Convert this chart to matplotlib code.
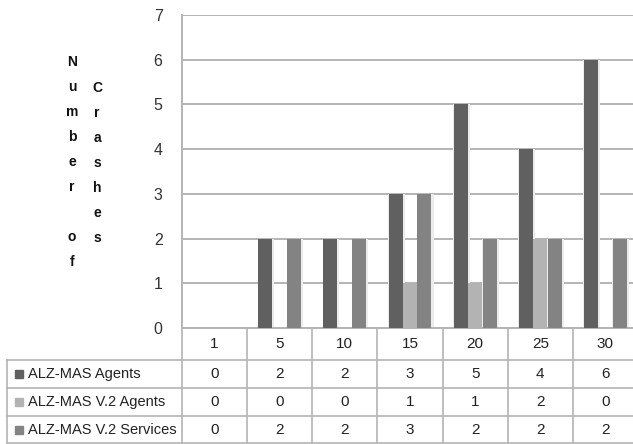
import matplotlib.pyplot as plt
import matplotlib.transforms as mtransforms
from matplotlib.lines import Line2D
from matplotlib.patches import Rectangle
import numpy as np

# number of agents launched per test run
agent_counts = ['1', '5', '10', '15', '20', '25', '30']
series_names = ['ALZ-MAS Agents', 'ALZ-MAS V.2 Agents', 'ALZ-MAS V.2 Services']
alz_mas_agents = [0, 2, 2, 3, 5, 4, 6]
alz_mas_v2_agents = [0, 0, 0, 1, 1, 2, 0]
alz_mas_v2_services = [0, 2, 2, 3, 2, 2, 2]
series_colors = ['#606060', '#b3b3b3', '#838383']

plt.rcParams['font.family'] = ['Liberation Sans', 'DejaVu Sans']

W, H = 633, 444
fig = plt.figure(figsize=(W / 100, H / 100), dpi=100)

# helpers to place things in pixel units (origin top-left)
def fx(px):
    return px / W

def fy(py):
    return 1 - py / H

grid_color = '#b4b4b4'
ax = fig.add_axes([fx(182), fy(328), fx(638) - fx(182), fy(15) - fy(328)])

x = np.arange(len(agent_counts))
series = [alz_mas_agents, alz_mas_v2_agents, alz_mas_v2_services]
offsets = [-0.222, 0.0, 0.222]
bar_w = 0.215
for vals, off, col in zip(series, offsets, series_colors):
    # faint halo around each bar
    ax.bar(x + off + 0.012, vals, width=bar_w + 0.04, color='#ececec', zorder=2)
    ax.bar(x + off, vals, width=bar_w, color=col, zorder=3)

ax.set_xlim(-0.5, len(agent_counts) - 0.5)
ax.set_ylim(0, 7)
ax.set_yticks(range(8))
ax.set_xticks([])
ax.yaxis.grid(True, color=grid_color, lw=1.4)
ax.set_axisbelow(True)
for side in ['top', 'right']:
    ax.spines[side].set_visible(False)
ax.spines['left'].set_color(grid_color)
ax.spines['left'].set_linewidth(1.4)
ax.spines['bottom'].set_color(grid_color)
ax.spines['bottom'].set_linewidth(1.4)
ax.tick_params(axis='y', length=0, pad=14, labelsize=11.5, labelcolor='#333333')

# y axis title, written as stacked letters in two columns
def stacked(word, xc, yc, step=25):
    n = len(word)
    for i, ch in enumerate(word):
        y = yc + (i - (n - 1) / 2) * step
        fig.text(fx(xc), fy(y), ch, ha='center', va='center',
                 fontweight='bold', fontsize=10, color='#111111')

stacked('Number of', 72, 162)
stacked('Crashes', 97, 163)

# data table under the chart
blend = mtransforms.blended_transform_factory(ax.transData, fig.transFigure)
row_edges = [328, 360, 388, 416, 443]
lw = 1.2

# vertical column borders
for i in range(len(agent_counts) + 1):
    xe = i - 0.5
    fig.add_artist(Line2D([xe, xe], [fy(row_edges[0]), fy(row_edges[-1])],
                          transform=blend, color=grid_color, lw=lw))
# row label box
fig.add_artist(Line2D([fx(7), fx(7)], [fy(row_edges[1]), fy(row_edges[-1])],
                      transform=fig.transFigure, color=grid_color, lw=lw))
for ye in row_edges[1:]:
    fig.add_artist(Line2D([fx(7), fx(640)], [fy(ye), fy(ye)],
                          transform=fig.transFigure, color=grid_color, lw=lw))

# header row with the agent counts
for xi, lab in zip(x, agent_counts):
    fig.text(xi, fy((row_edges[0] + row_edges[1]) / 2), lab, transform=blend,
             ha='center', va='center', fontsize=11, color='#222222')

for r, (name, vals, col) in enumerate(zip(series_names, series, series_colors)):
    yc = (row_edges[r + 1] + row_edges[r + 2]) / 2
    fig.add_artist(Rectangle((fx(15), fy(yc + 4)), fx(8), 8 / H,
                             transform=fig.transFigure, color=col))
    fig.text(fx(28), fy(yc), name, ha='left', va='center',
             fontsize=10.5, color='#222222')
    for xi, v in zip(x, vals):
        fig.text(xi, fy(yc), str(v), transform=blend,
                 ha='center', va='center', fontsize=11, color='#222222')

fig.savefig('out.png', dpi=100)
